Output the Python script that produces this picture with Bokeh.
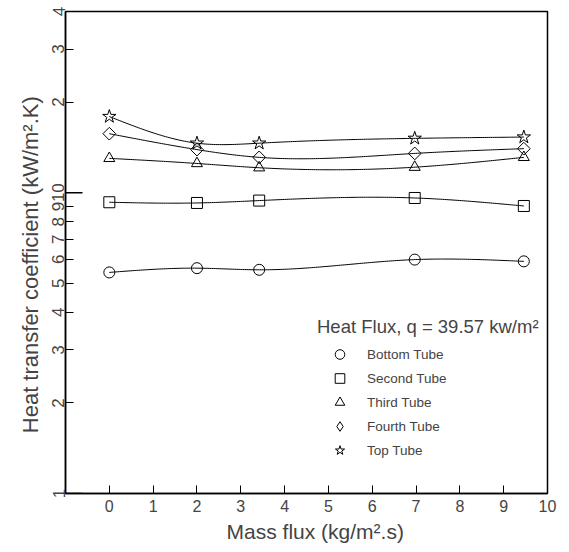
import numpy as np
from bokeh.plotting import figure
from bokeh.models import Range1d, FixedTicker, Legend, LegendItem
from bokeh.embed import file_html
from bokeh.resources import INLINE

# ---------------- data ----------------
mass_flux = [0.0, 2.0, 3.42, 6.97, 9.46]
bottom_tube = [5.43, 5.61, 5.54, 5.99, 5.91]
second_tube = [9.29, 9.24, 9.41, 9.60, 9.03]
third_tube = [13.0, 12.5, 12.1, 12.15, 13.1]
fourth_tube = [15.7, 13.9, 13.1, 13.5, 14.0]
top_tube = [17.9, 14.6, 14.6, 15.15, 15.3]

series_names = ["Bottom Tube", "Second Tube", "Third Tube", "Fourth Tube", "Top Tube"]
series_markers = ["circle", "square", "triangle", "square", "star"]
legend_markers = ["circle", "square", "triangle", "diamond", "star"]
series_angles = [0.0, 0.0, 0.0, np.pi / 4, 0.0]
series_sizes = [11, 11, 11, 9, 14]

x_ticks = [0, 1, 2, 3, 4, 5, 6, 7, 8, 9, 10]
y_ticks = [1, 2, 3, 4, 5, 6, 7, 8, 9, 10, 20, 30, 40]
y_tick_labels = ["1", "2", "3", "4", "5", "6", "7", "8", "9", "10", "2", "3", "4"]
decade_ticks = [1, 10]

FONT = "Liberation Sans"
NB = "\u00a0"


def natural_spline(x, y, n=200):
    x = np.asarray(x, float)
    y = np.asarray(y, float)
    k = len(x)
    h = np.diff(x)
    A = np.zeros((k, k))
    b = np.zeros(k)
    A[0, 0] = 1.0
    A[-1, -1] = 1.0
    for i in range(1, k - 1):
        A[i, i - 1] = h[i - 1]
        A[i, i] = 2 * (h[i - 1] + h[i])
        A[i, i + 1] = h[i]
        b[i] = 3 * ((y[i + 1] - y[i]) / h[i] - (y[i] - y[i - 1]) / h[i - 1])
    c = np.linalg.solve(A, b)
    xs = np.linspace(x[0], x[-1], n)
    idx = np.clip(np.searchsorted(x, xs) - 1, 0, k - 2)
    dx = xs - x[idx]
    bb = (y[1:] - y[:-1]) / h - h * (2 * c[:-1] + c[1:]) / 3
    d = (c[1:] - c[:-1]) / (3 * h)
    ys = y[idx] + bb[idx] * dx + c[idx] * dx ** 2 + d[idx] * dx ** 3
    return xs, ys


FRAME_W = 482
FRAME_H = 482
p = figure(
    frame_width=FRAME_W, frame_height=FRAME_H,
    min_border_left=65, min_border_right=22, min_border_top=11, min_border_bottom=59,
    x_range=Range1d(-1, 10), y_range=Range1d(1, 40), y_axis_type="log",
    output_backend="svg", toolbar_location=None,
    background_fill_color="white", border_fill_color="white",
)
p.xgrid.visible = False
p.ygrid.visible = False
p.outline_line_color = "black"
p.outline_line_width = 1.5
p.outline_line_alpha = 1.0

# x axis
xa = p.xaxis[0]
xa.ticker = FixedTicker(ticks=x_ticks, minor_ticks=[])
xa.axis_label = NB * 3 + "Mass flux (kg/m\u00b2.s)"
xa.axis_label_text_font = FONT
xa.axis_label_text_font_size = "21px"
xa.axis_label_text_font_style = "normal"
xa.axis_label_standoff = 5
xa.major_label_text_font = FONT
xa.major_label_text_font_size = "16px"
xa.major_label_standoff = 6
xa.major_tick_in = 8
xa.major_tick_out = 0
xa.minor_tick_in = 0
xa.minor_tick_out = 0
xa.axis_line_width = 1.5
xa.major_tick_line_width = 1

# y axis
ya = p.yaxis[0]
ya.ticker = FixedTicker(ticks=y_ticks, minor_ticks=[])
ya.major_label_overrides = {t: lab for t, lab in zip(y_ticks, y_tick_labels)}
ya.major_label_orientation = "vertical"
ya.axis_label = "Heat transfer coefficient (kW/m\u00b2.K)" + NB * 4
ya.axis_label_text_font = FONT
ya.axis_label_text_font_size = "22px"
ya.axis_label_text_font_style = "normal"
ya.axis_label_standoff = 7
ya.major_label_text_font = FONT
ya.major_label_text_font_size = "17px"
ya.major_label_standoff = 1
ya.major_tick_in = 8
ya.major_tick_out = 0
ya.minor_tick_in = 0
ya.minor_tick_out = 0
ya.axis_line_width = 1.5
ya.major_tick_line_width = 1

# longer decade ticks (inward, 17 px)
x0 = p.x_range.start
x1 = x0 + 17 * (p.x_range.end - p.x_range.start) / FRAME_W
p.segment(x0=[x0] * len(decade_ticks), x1=[x1] * len(decade_ticks),
          y0=decade_ticks, y1=decade_ticks, line_color="black", line_width=1.5)

series = [bottom_tube, second_tube, third_tube, fourth_tube, top_tube]
items = []
for name, marker, lmarker, ang, size, vals in zip(series_names, series_markers, legend_markers,
                                                  series_angles, series_sizes, series):
    xs, ys = natural_spline(mass_flux, np.log10(vals))
    p.line(xs, 10 ** ys, line_color="black", line_width=1)
    r = p.scatter(mass_flux, vals, marker=marker, size=size, angle=ang, fill_color=None,
                  line_color="black", line_width=1)
    if lmarker != marker:
        # legend-only glyph (zero size in the plot; legend sizes its own glyph)
        r = p.scatter(mass_flux, vals, marker=lmarker, size=0, fill_color=None,
                      line_color="black", line_width=1)
    items.append(LegendItem(label=name, renderers=[r]))

legend = Legend(
    items=items, location=(252, 31),
    title="Heat Flux, q = 39.57 kw/m\u00b2",
    title_text_font=FONT, title_text_font_size="18.5px", title_text_font_style="normal",
    title_standoff=4,
    label_text_font=FONT, label_text_font_size="13.5px",
    glyph_width=45, glyph_height=24, label_height=23, spacing=0, label_standoff=5,
    padding=0, margin=0, border_line_color=None, background_fill_alpha=0,
)
p.add_layout(legend, "center")

open("out.html", "w").write(file_html(p, INLINE))
